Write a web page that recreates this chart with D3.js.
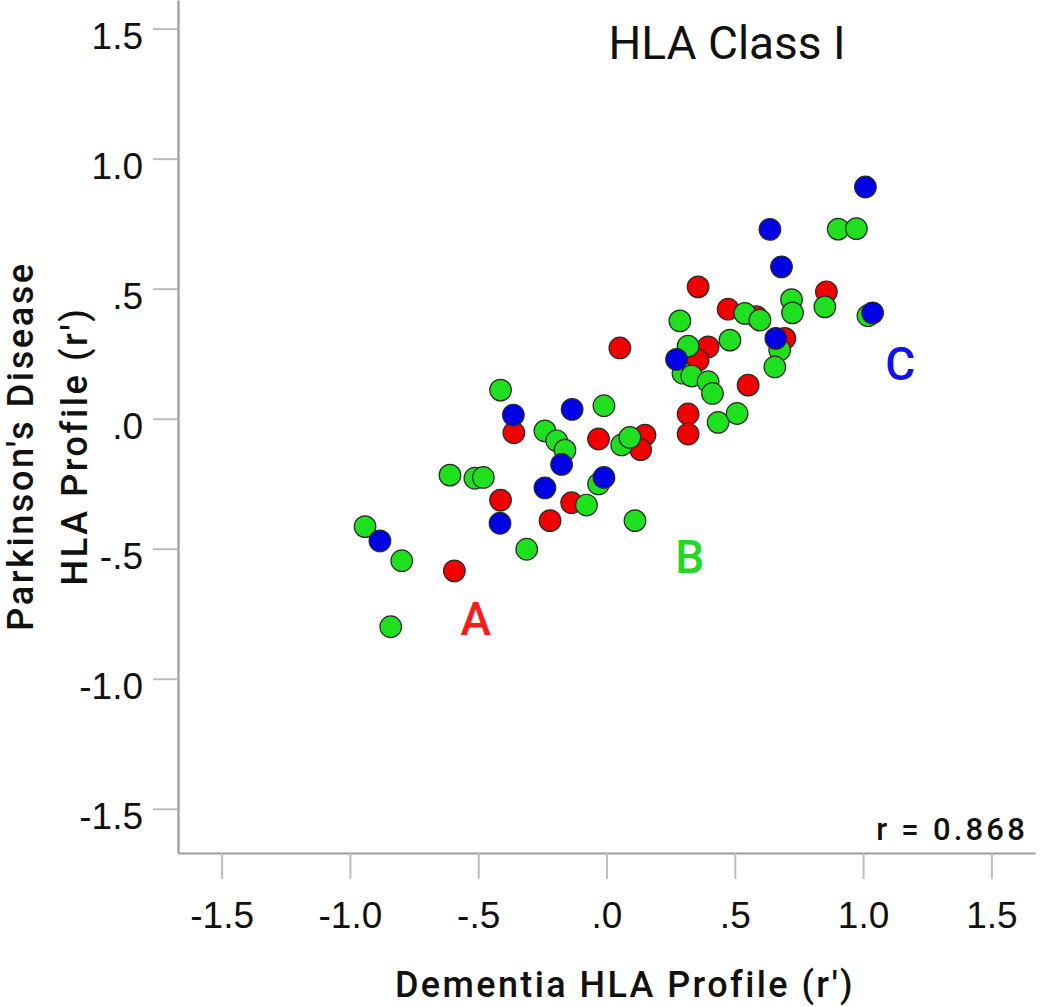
<!DOCTYPE html>
<html>
<head>
<meta charset="utf-8">
<script src="https://cdn.jsdelivr.net/npm/d3@7/dist/d3.min.js"></script>
<style>
  body { margin: 0; background: #fff; }
  svg { display: block; }
</style>
</head>
<body>
<div class="scatter-container"></div>
<script>
// . . . data (dementia r', parkinson's r')

const groupNames = ['A', 'B', 'C'];

const groupA = [
  [-0.361, -0.054], [-0.031, -0.078], [0.150, -0.063], [0.133, -0.119],
  [-0.413, -0.313], [-0.136, -0.323], [-0.220, -0.392], [-0.593, -0.585],
  [0.357, 0.507], [0.857, 0.488], [0.474, 0.421], [0.585, 0.392],
  [0.695, 0.309], [0.396, 0.276], [0.357, 0.225], [0.552, 0.129],
  [0.052, 0.272], [0.318, 0.018], [0.318, -0.059]
];

const groupB = [
  [-0.413, 0.110], [-0.010, 0.050], [-0.240, -0.047], [-0.194, -0.085],
  [-0.162, -0.121], [0.059, -0.101], [0.091, -0.072], [-0.610, -0.217],
  [-0.513, -0.229], [-0.480, -0.226], [-0.031, -0.251], [-0.078, -0.332],
  [0.111, -0.392], [-0.311, -0.502], [-0.941, -0.415], [-0.798, -0.546],
  [-0.841, -0.800], [0.721, 0.458], [0.725, 0.407], [0.851, 0.430],
  [0.286, 0.376], [0.539, 0.405], [0.598, 0.379], [0.481, 0.302],
  [0.675, 0.264], [0.656, 0.199], [0.318, 0.279], [0.298, 0.175],
  [0.332, 0.164], [0.396, 0.142], [0.413, 0.097], [0.435, -0.014],
  [0.509, 0.020], [0.903, 0.729], [0.974, 0.731], [1.019, 0.396]
];

const groupC = [
  [-0.363, 0.014], [-0.134, 0.036], [-0.175, -0.176], [-0.010, -0.226],
  [-0.240, -0.266], [-0.415, -0.402], [-0.883, -0.470], [0.273, 0.228],
  [0.660, 0.309], [0.682, 0.584], [0.637, 0.728], [1.009, 0.891],
  [1.037, 0.407]
];

const tickValues = [-1.5, -1.0, -0.5, 0, 0.5, 1.0, 1.5];
const tickLabels = ['-1.5', '-1.0', '-.5', '.0', '.5', '1.0', '1.5'];

const titleText = 'HLA Class I';
const xTitle = 'Dementia HLA Profile (r\')';
const yTitleLines = ['Parkinson\'s Disease', 'HLA Profile (r\')'];
const corrText = 'r = 0.868';

// . . . setup

const width = 1050;
const height = 1007;
const plot = { left: 178, right: 1035, top: 0, bottom: 853 };
const colors = { A: '#f20000', B: '#1ee01e', C: '#0000e6' };
const labelColors = { A: '#ff1a1a', B: '#22d822', C: '#1010f0' };
const dinFont = 'Roboto, "DejaVu Sans", sans-serif';

const svg = d3.select('.scatter-container')
  .append('svg')
  .attr('width', width)
  .attr('height', height);

// scales
const x = d3.scaleLinear()
  .domain([-1.67, 1.67])
  .range([plot.left, plot.right]);

const y = d3.scaleLinear()
  .domain([-1.67, 1.61])
  .range([plot.bottom, plot.top]);

const fmt = d => tickLabels[tickValues.indexOf(d)];

// axes
const xAxis = svg.append('g')
  .attr('transform', `translate(0, ${plot.bottom})`)
  .call(d3.axisBottom(x)
    .tickValues(tickValues)
    .tickFormat(fmt)
    .tickSize(26)
    .tickSizeOuter(0)
    .tickPadding(23));

const yAxis = svg.append('g')
  .attr('transform', `translate(${plot.left}, 0)`)
  .call(d3.axisLeft(y)
    .tickValues(tickValues)
    .tickFormat(fmt)
    .tickSize(25)
    .tickSizeOuter(0)
    .tickPadding(10));

[xAxis, yAxis].forEach(g => {
  g.select('.domain')
    .attr('stroke', '#9a9a9a')
    .attr('stroke-width', 2.2);
  g.selectAll('.tick line')
    .attr('stroke', '#bdbdbd')
    .attr('stroke-width', 2);
  g.selectAll('.tick text')
    .attr('fill', '#111')
    .style('font-family', '"Liberation Sans", Arial, sans-serif')
    .style('font-size', '37px');
});

yAxis.selectAll('.tick text').attr('dy', '20px');

// points, red then green then blue on top
const groups = [groupA, groupB, groupC];
groups.forEach((pts, i) => {
  svg.append('g')
    .selectAll('circle')
    .data(pts)
    .enter()
    .append('circle')
    .attr('cx', d => x(d[0]))
    .attr('cy', d => y(d[1]))
    .attr('r', 10.8)
    .attr('fill', colors[groupNames[i]])
    .attr('stroke', '#2a2a2a')
    .attr('stroke-width', 1.2);
});

// group letters
const letterPos = { A: [-0.51, -0.832], B: [0.325, -0.593], C: [1.145, 0.148] };
groupNames.forEach(name => {
  svg.append('text')
    .attr('x', x(letterPos[name][0]))
    .attr('y', y(letterPos[name][1]))
    .attr('text-anchor', 'middle')
    .attr('fill', labelColors[name])
    .style('font-family', dinFont)
    .style('font-weight', 500)
    .style('font-size', '46px')
    .text(name);
});

// title
svg.append('text')
  .attr('x', 727)
  .attr('y', 59)
  .attr('text-anchor', 'middle')
  .attr('fill', '#111')
  .style('font-family', dinFont)
  .style('font-size', '46px')
  .text(titleText);

// correlation
svg.append('text')
  .attr('x', 1028)
  .attr('y', 840)
  .attr('text-anchor', 'end')
  .attr('fill', '#111')
  .style('font-family', dinFont)
  .style('font-weight', 500)
  .style('font-size', '31px')
  .style('letter-spacing', '3.2px')
  .text(corrText);

// axis titles
svg.append('text')
  .attr('x', 625)
  .attr('y', 997)
  .attr('text-anchor', 'middle')
  .attr('fill', '#111')
  .style('font-family', dinFont)
  .style('font-weight', 500)
  .style('font-size', '36px')
  .style('letter-spacing', '2.4px')
  .text(xTitle);

yTitleLines.forEach((line, i) => {
  svg.append('text')
    .attr('transform', `translate(${33 + i * 54}, 446) rotate(-90)`)
    .attr('text-anchor', 'middle')
    .attr('fill', '#111')
    .style('font-family', dinFont)
    .style('font-weight', 500)
    .style('font-size', '36px')
    .style('letter-spacing', '2.6px')
    .text(line);
});
</script>
</body>
</html>
